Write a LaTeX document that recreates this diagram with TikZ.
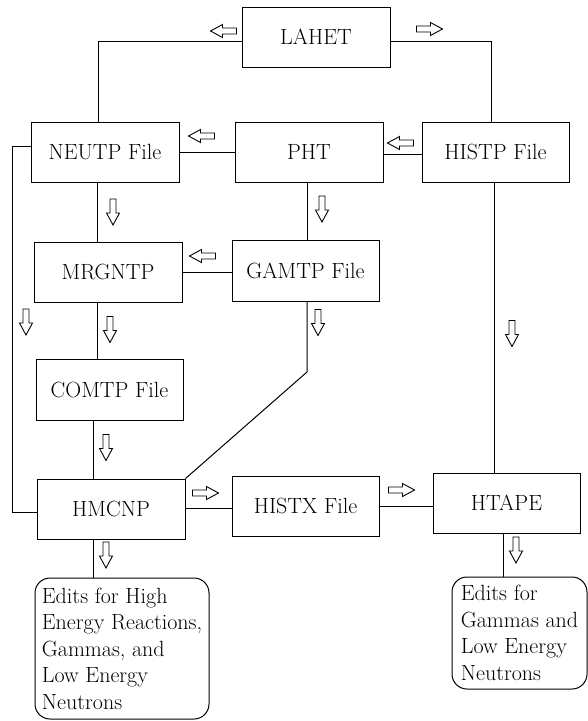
\documentclass[tikz,border=0pt]{standalone}
\begin{document}
\begin{tikzpicture}[x=1pt,y=-1pt,line width=1pt,
  box/.style={draw,line width=1pt,minimum width=148pt,minimum height=60pt,inner sep=0pt,font=\rmfamily\fontsize{22}{26.5}\selectfont},
  note/.style={draw,line width=1pt,rounded corners=15pt,align=left,inner sep=0pt,font=\rmfamily\fontsize{22}{26.5}\selectfont},
  barrow/.pic={\draw[line width=0.9pt,fill=white] (-13,-3) -- (1,-3) -- (1,-6.5) -- (13,0) -- (1,6.5) -- (1,3) -- (-13,3) -- cycle;}]
\useasboundingbox (0,0) rectangle (588,721);
% boxes
\node[box] (lahet) at (316,37) {LAHET};
\node[box] (neutp) at (105,152) {NEUTP File};
\node[box] (pht) at (309,152) {PHT};
\node[box,minimum width=147pt] (histp) at (495.5,152) {HISTP File};
\node[box] (mrgntp) at (108,272) {MRGNTP};
\node[box,minimum width=147pt,minimum height=61pt] (gamtp) at (305.5,270.5) {GAMTP File};
\node[box,minimum width=147pt,minimum height=61pt] (comtp) at (109.5,389.5) {COMTP File};
\node[box] (hmcnp) at (111,509) {HMCNP};
\node[box,minimum width=147pt] (histx) at (305.5,506) {HISTX File};
\node[box,minimum width=147pt] (htape) at (506.5,503) {HTAPE};
\node[note,minimum width=174pt,minimum height=141pt] (edits1) at (122,648.5)
  {Edits for High\\Energy Reactions,\\Gammas, and\\Low Energy\\Neutrons};
\node[note,minimum width=135pt,minimum height=112pt] (edits2) at (519.5,633)
  {Edits for\\Gammas and\\Low Energy\\Neutrons};
% connectors
\draw (lahet.west |- 0,41) -| ([xshift=-7pt]neutp.north);
\draw (lahet.east |- 0,41) -| ([xshift=-4.5pt]histp.north);
\draw (neutp.east) -- (pht.west);
\draw (pht.east |- 0,154) -- (histp.west |- 0,154);
\draw (neutp.west |- 0,146) -- (12,146) |- (hmcnp.west |- 0,512);
\draw ([xshift=-8pt]neutp.south) -- ([xshift=-11pt]mrgntp.north);
\draw ([xshift=-2pt]pht.south) -- ([xshift=1.5pt]gamtp.north);
\draw (mrgntp.east) -- (gamtp.west |- mrgntp.east);
\draw ([xshift=-11pt]mrgntp.south) -- ([xshift=-12.5pt]comtp.north);
\draw ([xshift=-16.5pt]comtp.south) -- ([xshift=-18pt]hmcnp.north);
\draw ([xshift=1.5pt]gamtp.south) -- (307,372) -- (hmcnp.north east);
\draw ([xshift=-1.5pt]histp.south) -- ([xshift=-12.5pt]htape.north);
\draw (hmcnp.east |- 0,508) -- (histx.west |- 0,508);
\draw (histx.east |- 0,506) -- (htape.west |- 0,506);
\draw ([xshift=-18pt]hmcnp.south) -- ([xshift=-29pt]edits1.north);
\draw ([xshift=-3.5pt]htape.south) -- ([xshift=-16.5pt]edits2.north);
% block arrows
\pic[rotate=180] at (223.5,31) {barrow};
\pic at (429.5,29) {barrow};
\pic[rotate=180] at (201.5,136) {barrow};
\pic[rotate=180] at (400.5,143) {barrow};
\pic[rotate=-90] at (113,212) {barrow};
\pic[rotate=-90] at (322,209) {barrow};
\pic[rotate=180] at (202.5,256) {barrow};
\pic[rotate=-90] at (26,322) {barrow};
\pic[rotate=-90] at (110,329.5) {barrow};
\pic[rotate=-90] at (318,322.5) {barrow};
\pic[rotate=-90] at (512,333.5) {barrow};
\pic[rotate=-90] at (106,447.5) {barrow};
\pic at (205.5,493) {barrow};
\pic at (401.5,490) {barrow};
\pic[rotate=-90] at (106,555) {barrow};
\pic[rotate=-90] at (516,550) {barrow};
\end{tikzpicture}
\end{document}
